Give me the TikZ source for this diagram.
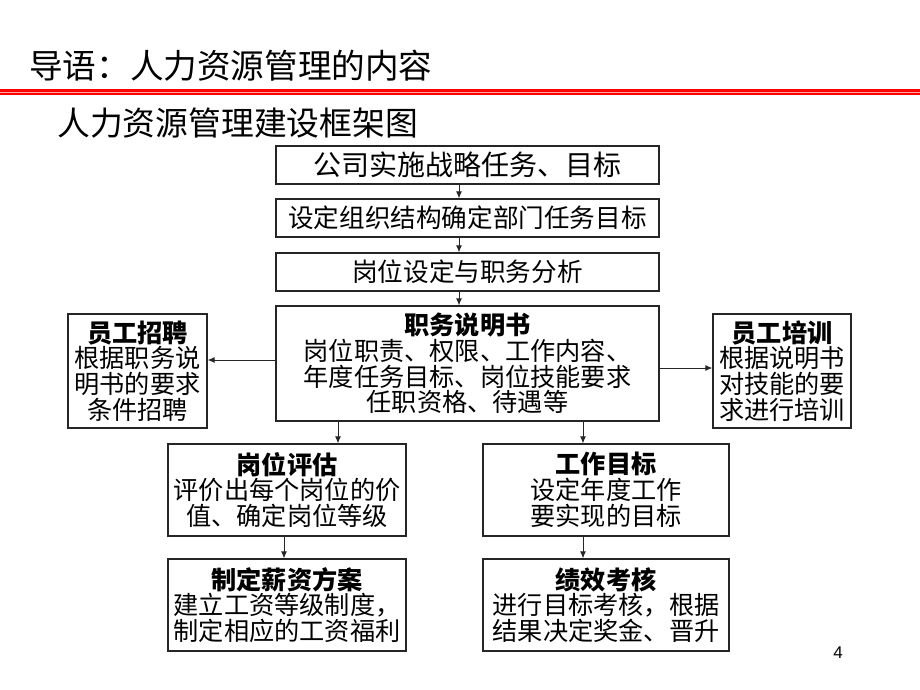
\documentclass[tikz,border=0pt]{standalone}
\usepackage{fontspec}
\newfontfamily\cjk{Noto Sans CJK SC}
\newfontfamily\numf{Liberation Sans}
\usetikzlibrary{arrows.meta}
\tikzset{
  box/.style={draw=black!85, line width=1.2pt, inner sep=0pt, align=center, fill=white},
  big/.style={font={\cjk\fontsize{28}{30}\selectfont}},
  mid/.style={font={\cjk\fontsize{25.6}{27}\selectfont}},
  body/.style={font={\cjk\fontsize{25.2}{25.8}\selectfont}},
  arr/.style={line width=1pt, draw=black!85, -{Latex[length=7pt,width=6pt]}},
}
\begin{document}
\begin{tikzpicture}[x=1pt,y=-1pt]
\useasboundingbox (0,0) rectangle (920,690);
% header
\node[anchor=west, inner sep=0pt, font={\cjk\fontsize{33.6}{35}\selectfont}] (hdr) at (29,66) {导语：人力资源管理的内容};
\fill[red] (0,89) rectangle (920,95.5);
\draw[red!35, line width=0.8pt] (0,92.2) -- (920,92.2);
\node[anchor=west, inner sep=0pt, font={\cjk\fontsize{32.8}{34}\selectfont}] (sub) at (57,123) {人力资源管理建设框架图};

% main column
\node[box, big, minimum width=383pt, minimum height=38pt] (b1) at (467.5,165) {公司实施战略任务、目标};
\node[box, mid, minimum width=383pt, minimum height=38pt] (b2) at (467.5,218) {设定组织结构确定部门任务目标};
\node[box, mid, minimum width=383pt, minimum height=38pt] (b3) at (467.5,272) {岗位设定与职务分析};
\node[box, body, minimum width=383pt, minimum height=115pt] (b4) at (467.5,363.5)
  {\textbf{职务说明书}\\岗位职责、权限、工作内容、\\年度任务目标、岗位技能要求\\任职资格、待遇等};

% side boxes
\node[box, body, minimum width=139pt, minimum height=114pt] (rec) at (137.5,371)
  {\textbf{员工招聘}\\根据职务说\\明书的要求\\条件招聘};
\node[box, body, minimum width=138pt, minimum height=114pt] (trn) at (782,371)
  {\textbf{员工培训}\\根据说明书\\对技能的要\\求进行培训};

% lower boxes
\node[box, body, minimum width=238pt, minimum height=92pt] (eva) at (287,490)
  {\textbf{岗位评估}\\评价出每个岗位的价\\值、确定岗位等级};
\node[box, body, minimum width=246pt, minimum height=92pt] (goal) at (606,490)
  {\textbf{工作目标}\\设定年度工作\\要实现的目标};
\node[box, body, minimum width=238pt, minimum height=92pt] (pay) at (287,605)
  {\textbf{制定薪资方案}\\建立工资等级制度，\\制定相应的工资福利};
\node[box, body, minimum width=246pt, minimum height=92pt] (perf) at (606,605)
  {\textbf{绩效考核}\\进行目标考核，根据\\结果决定奖金、晋升};

\node[font={\numf\fontsize{17}{19}\selectfont}, inner sep=0pt] (pg) at (838,653) {4};

% connectors
\coordinate (cx) at (459,0);
\coordinate (lx) at (338,0);
\coordinate (rx) at (583,0);
\coordinate (ex) at (284,0);
\coordinate (ly) at (0,360);
\coordinate (ry) at (0,368);
\draw[arr] (b1.south -| cx) -- (b2.north -| cx);
\draw[arr] (b2.south -| cx) -- (b3.north -| cx);
\draw[arr] (b3.south -| cx) -- (b4.north -| cx);
\draw[arr] (b4.west |- ly) -- (rec.east |- ly);
\draw[arr] (b4.east |- ry) -- (trn.west |- ry);
\draw[arr] (b4.south -| lx) -- (eva.north -| lx);
\draw[arr] (b4.south -| rx) -- (goal.north -| rx);
\draw[arr] (eva.south -| ex) -- (pay.north -| ex);
\draw[arr] (goal.south -| rx) -- (perf.north -| rx);
\end{tikzpicture}
\end{document}
